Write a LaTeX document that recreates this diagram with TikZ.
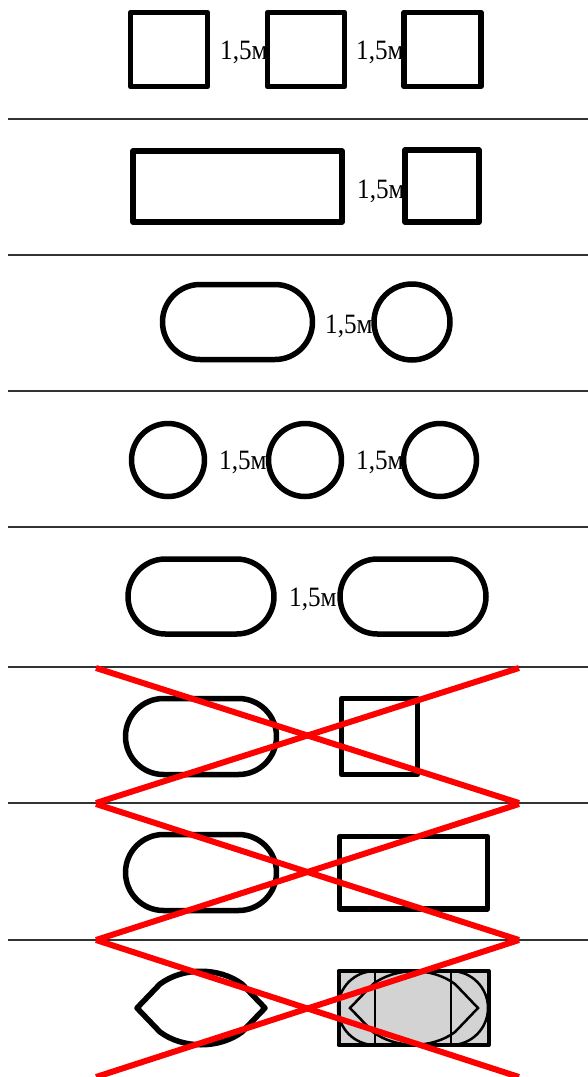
\documentclass[tikz,border=0pt]{standalone}
\usepackage{fontspec}
\usepackage{graphicx}
\setmainfont{Liberation Serif}
\usetikzlibrary{calc}
\tikzset{l/.style={font=\fontsize{28}{28}\selectfont, inner sep=0pt, anchor=base west}}
\tikzset{sh/.style={line width=5.5pt, line join=round}}
\tikzset{rx/.style={red, line width=6pt}}
\tikzset{hl/.style={black!80, line width=1.3pt}}
\tikzset{lens/.pic={
  \draw[pic actions] (-64,0) -- (-41,-24) .. controls (-18,-41) and (18,-41) .. (41,-24)
    -- (64,0) -- (41,24) .. controls (18,41) and (-18,41) .. (-41,24) -- cycle;}}
\definecolor{cellgray}{HTML}{D3D3D3}
\newcommand{\dist}{\scalebox{0.9}[1]{1,5м}}

\begin{document}
\begin{tikzpicture}[x=1pt,y=-1pt]
  \useasboundingbox (0,0) rectangle (588,1077);
  % separators
  \foreach \y in {119,255,391,527,667,803,940}
    \draw[hl] (8,\y) -- (588,\y);
  % row 1: three squares
  \draw[sh] (130.5,12.5) rectangle (207.5,86.5);
  \draw[sh] (267.5,12.5) rectangle (344.5,86.5);
  \draw[sh] (404,12.5) rectangle (481,86.5);
  \node[l] (d1a) at (220,59) {\dist};
  \node[l] (d1b) at (356,59) {\dist};
  % row 2: rectangle and square
  \draw[sh] (133,151) rectangle (342,222);
  \draw[sh] (405,150) rectangle (479,222);
  \node[l] (d2a) at (357,198) {\dist};
  % row 3: stadium and circle
  \draw[sh, rounded corners=37.5pt] (162.5,284.5) rectangle (312.5,359.5);
  \draw[sh] (412,322) circle[radius=38];
  \node[l] (d3a) at (325,333) {\dist};
  % row 4: three circles
  \foreach \x in {168,305,440}
    \draw[sh] (\x,460) circle[radius=36.5];
  \node[l] (d4a) at (219,469) {\dist};
  \node[l] (d4b) at (356,469) {\dist};
  % row 5: two stadiums
  \draw[sh, rounded corners=37.5pt] (128,559) rectangle (274,634);
  \draw[sh, rounded corners=37.5pt] (340,559) rectangle (486,634);
  \node[l] (d5a) at (289,606) {\dist};
  % row 6: stadium and square (wrong)
  \draw[sh, rounded corners=38pt] (125.5,698.5) rectangle (276.5,774.5);
  \draw[sh] (341.5,698.5) rectangle (417.5,774.5);
  \draw[rx] (96,668) -- (519,803);
  \draw[rx] (96,803) -- (519,668);
  % row 7: stadium and rectangle (wrong)
  \draw[sh, rounded corners=38pt] (125.5,834.5) rectangle (276.5,910.5);
  \draw[sh] (339.5,836.5) rectangle (487.5,909);
  \draw[rx] (96,804) -- (519,940);
  \draw[rx] (96,940) -- (519,804);
  % row 8: lens and filled cell (wrong)
  \pic[sh] at (201,1008) {lens};
  \fill[cellgray] (338.5,971) rectangle (488.5,1045);
  \begin{scope}[line width=2.5pt]
    \draw (375,971) arc[start angle=270, end angle=90, radius=37];
    \draw (451,971) arc[start angle=270, end angle=450, radius=37];
    \draw (375,971) -- (375,1045);
    \draw (451,971) -- (451,1045);
    \pic at (414,1008) {lens};
  \end{scope}
  \draw[sh, line width=4pt] (338.5,971) rectangle (488.5,1045);
  \draw[rx] (96,940) -- (519,1077);
  \draw[rx] (96,1077) -- (519,940);
\end{tikzpicture}
\end{document}
